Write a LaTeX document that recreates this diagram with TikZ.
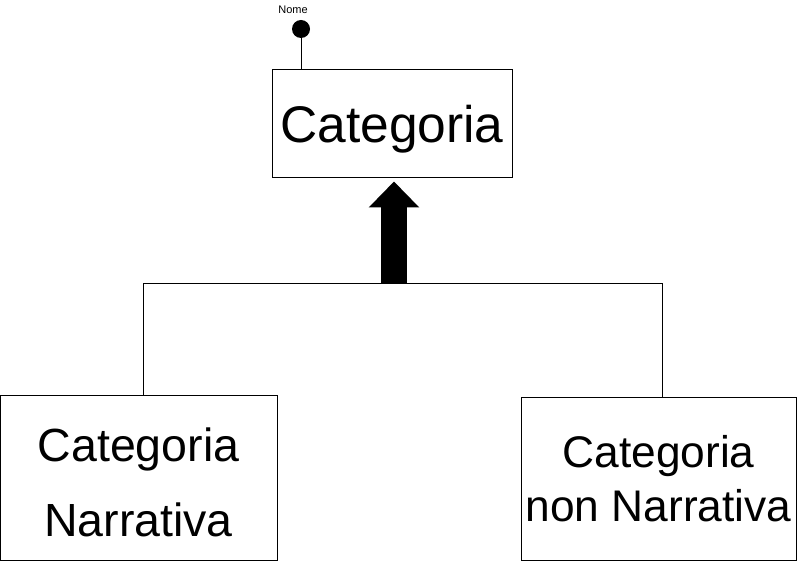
\documentclass[tikz,border=0pt]{standalone}
\usepackage{fontspec}
\setmainfont{Liberation Sans}
\usetikzlibrary{arrows.meta}

\begin{document}
\begin{tikzpicture}[x=1pt,y=-1pt,line width=1pt,
    entity/.style={draw,rectangle,inner sep=0pt,align=center}]
   \useasboundingbox (0,0) rectangle (797,561);
   \node[entity,minimum width=240,minimum height=108,text depth=0pt,font=\fontsize{51.5}{60}\selectfont] (cat) at (392,124) {Categoria};
   \node[entity,minimum width=277,minimum height=165,text height=118pt,text depth=0pt,font=\fontsize{46.5}{75}\selectfont] (catn) at (138.5,477.5) {Categoria\\Narrativa};
   \node[entity,minimum width=275,minimum height=163,font=\fontsize{44.3}{54}\selectfont] (catnn) at (658.5,478.5) {Categoria\\non Narrativa};
   % attributo
   \node[circle,fill,inner sep=0pt,minimum size=18] (nome) at (301,29) {};
   \node[font=\fontsize{11}{13}\selectfont] (nomet) at (293,10) {Nome};
   \draw (nome) -- (nome |- cat.north);
   % generalizzazione
   \coordinate (gl) at (143,283);
   \coordinate (gr) at (662,283);
   \coordinate (gm) at (394,283);
   \draw (catn.north -| gl) -- (gl) -- (gr) -- (catnn.north -| gr);
   \draw[line width=26,shorten >=3,-{Triangle[width=49,length=26]}] (gm) -- (gm |- cat.south);
   % \draw (cat) -- (catn);
\end{tikzpicture}
\end{document}
